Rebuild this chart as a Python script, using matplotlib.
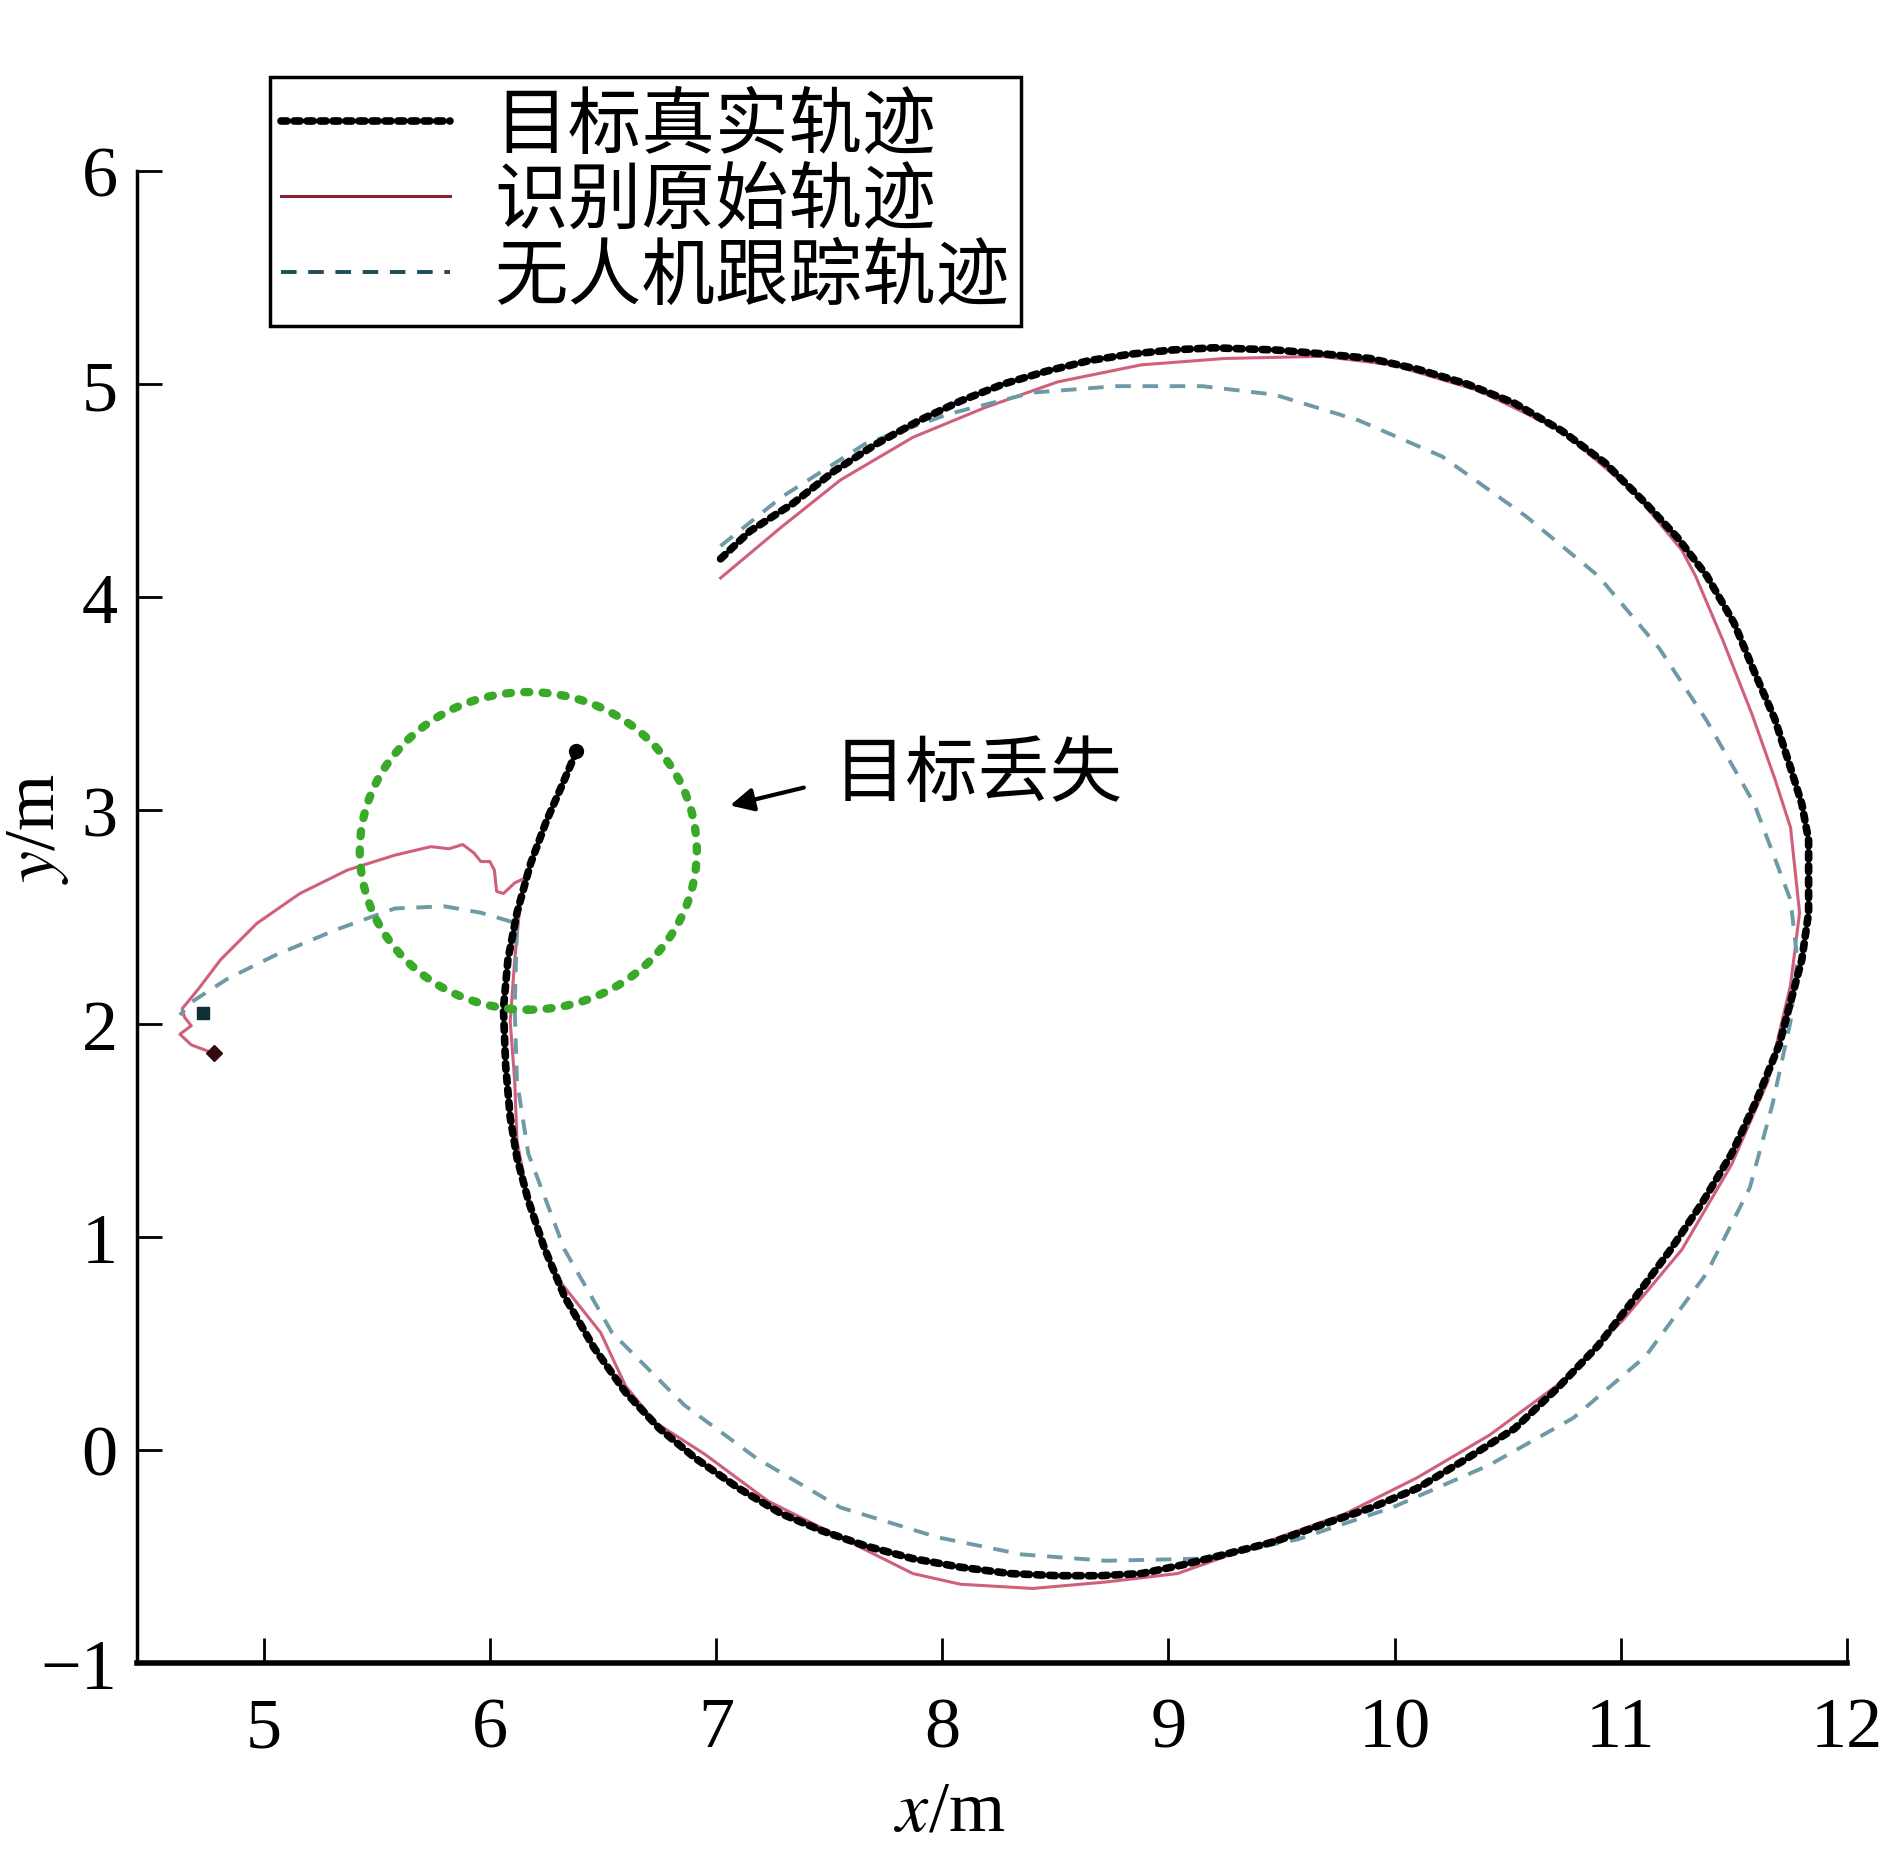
import matplotlib
matplotlib.use('Agg')
import matplotlib.pyplot as plt
from matplotlib.patches import Circle
from matplotlib.font_manager import FontProperties

plt.rcParams['font.family'] = ['Liberation Serif', 'DejaVu Sans']
plt.rcParams['mathtext.fontset'] = 'stix'

# target true trajectory (black dotted)
true_x = [7.02, 7.15, 7.34, 7.52, 7.71, 7.90, 8.08, 8.27, 8.46, 8.65, 8.83, 9.02, 9.20, 9.47, 9.70, 9.89,
          10.10, 10.32, 10.53, 10.74, 10.93, 11.11, 11.25, 11.38, 11.50, 11.59, 11.68, 11.75, 11.80, 11.83,
          11.83, 11.80, 11.75, 11.70, 11.60, 11.49, 11.36, 11.22, 11.06, 10.90, 10.72, 10.53, 10.32, 10.10,
          9.90, 9.68, 9.47, 9.25, 9.06, 8.88, 8.70, 8.51, 8.30, 8.08, 7.87, 7.66, 7.47, 7.29, 7.10, 6.91,
          6.75, 6.60, 6.46, 6.33, 6.24, 6.17, 6.12, 6.09, 6.07, 6.06, 6.08, 6.12, 6.18, 6.25, 6.32, 6.38]
true_y = [4.18, 4.31, 4.44, 4.59, 4.72, 4.83, 4.92, 5.00, 5.06, 5.11, 5.14, 5.16, 5.17, 5.16, 5.14, 5.12,
          5.07, 5.00, 4.91, 4.78, 4.63, 4.44, 4.28, 4.10, 3.88, 3.65, 3.43, 3.20, 3.03, 2.86,
          2.52, 2.30, 2.10, 1.90, 1.64, 1.39, 1.16, 0.94, 0.71, 0.49, 0.29, 0.10, -0.04, -0.18,
          -0.27, -0.35, -0.43, -0.49, -0.54, -0.58, -0.59, -0.59, -0.58, -0.55, -0.51, -0.45, -0.38, -0.30, -0.18, -0.04,
          0.10, 0.27, 0.48, 0.72, 0.95, 1.17, 1.37, 1.56, 1.80, 2.07, 2.30, 2.52, 2.75, 2.95, 3.12, 3.27]

# recognised raw trajectory (red)
raw_x = [7.02, 7.29, 7.55, 7.87, 8.19, 8.51, 8.88, 9.25, 9.68, 9.99, 10.37, 10.74, 11.06, 11.27, 11.33,
         11.45, 11.58, 11.68, 11.75, 11.79, 11.75, 11.65, 11.49, 11.27, 11.01, 10.74, 10.42, 10.10, 9.78,
         9.41, 9.04, 8.72, 8.40, 8.08, 7.87, 7.55, 7.23, 6.95, 6.73, 6.60, 6.49, 6.28, 6.17, 6.12, 6.11,
         6.09, 6.11, 6.13, 6.15, 6.11, 6.06, 6.03, 6.02, 6.00, 5.96, 5.93, 5.88, 5.82, 5.74, 5.58, 5.37,
         5.16, 4.97, 4.81, 4.71, 4.64, 4.65, 4.68, 4.63, 4.68, 4.78]
raw_y = [4.09, 4.33, 4.55, 4.75, 4.89, 5.01, 5.09, 5.12, 5.13, 5.09, 4.97, 4.78, 4.49, 4.22, 4.10,
         3.80, 3.45, 3.15, 2.92, 2.52, 2.18, 1.73, 1.34, 0.94, 0.61, 0.32, 0.07, -0.13, -0.30,
         -0.44, -0.58, -0.62, -0.65, -0.63, -0.58, -0.41, -0.24, -0.02, 0.13, 0.30, 0.55, 0.83, 1.17, 1.45, 1.73,
         2.01, 2.30, 2.52, 2.68, 2.66, 2.61, 2.62, 2.72, 2.76, 2.76, 2.80, 2.84, 2.82, 2.83, 2.79, 2.72,
         2.61, 2.47, 2.30, 2.16, 2.07, 2.03, 1.99, 1.95, 1.90, 1.86]

# UAV tracking trajectory (dashed)
uav_x = [7.02, 7.29, 7.66, 8.03, 8.40, 8.77, 9.15, 9.47, 9.84, 10.21, 10.58, 10.90, 11.17, 11.38, 11.59,
         11.75, 11.78, 11.75, 11.67, 11.57, 11.38, 11.11, 10.79, 10.42, 9.99, 9.57, 9.15, 8.72, 8.35, 7.98,
         7.55, 7.18, 6.86, 6.54, 6.33, 6.17, 6.12, 6.11, 6.12, 5.96, 5.80, 5.58, 5.32, 5.05, 4.84, 4.68, 4.63]
uav_y = [4.24, 4.47, 4.72, 4.86, 4.96, 4.99, 4.99, 4.95, 4.83, 4.66, 4.38, 4.10, 3.76, 3.42, 3.03,
         2.58, 2.30, 2.01, 1.62, 1.23, 0.83, 0.44, 0.15, -0.07, -0.27, -0.42, -0.51, -0.52, -0.49, -0.41,
         -0.27, -0.04, 0.21, 0.55, 0.94, 1.39, 1.73, 2.07, 2.47, 2.52, 2.55, 2.54, 2.44, 2.32, 2.21, 2.10, 2.04]

# end points
true_end = (6.38, 3.28)
raw_end = (4.78, 1.86)
uav_end = (4.73, 2.05)

# lost-target region
lost_center = (6.17, 2.81)
lost_radius = 0.745

labels = ['目标真实轨迹', '识别原始轨迹', '无人机跟踪轨迹']

fig = plt.figure(figsize=(18.84, 18.56), dpi=100)
ax = fig.add_axes([0.0727, 0.1034, 0.9077, 0.8040])

red = '#d0607a'
teal = '#6e9aa8'

l2, = ax.plot(raw_x, raw_y, color=red, lw=2.2, zorder=2)
l3, = ax.plot(uav_x, uav_y, color=teal, lw=2.8, linestyle=(0, (4, 3)), zorder=2)
l1, = ax.plot(true_x, true_y, color='black', lw=5.5, linestyle=(0, (0.8, 0.9)),
              dash_capstyle='round', zorder=3)

ax.plot(*true_end, 'o', color='black', ms=10, zorder=4)
ax.plot(*raw_end, 'D', color='#330a10', ms=8, zorder=4)
ax.plot(*uav_end, 's', color='#0f2e35', ms=8, zorder=4)

circ = Circle(lost_center, lost_radius, fill=False, edgecolor='#3aa828', lw=6,
              linestyle=(0, (0.6, 1.6)), capstyle='round', zorder=3)
ax.add_patch(circ)

cjk = FontProperties(family=['Noto Sans CJK SC', 'DejaVu Sans'], size=52)
ax.annotate('', xy=(7.05, 3.02), xytext=(7.40, 3.11),
            arrowprops=dict(arrowstyle='-|>', color='black', lw=3, mutation_scale=35))
ax.text(7.52, 3.17, '目标丢失', fontproperties=cjk, va='center', ha='left')

ax.set_xlim(4.44, 12.0)
ax.set_ylim(-1, 6)
ax.set_xticks(range(5, 13))
ax.set_yticks(range(-1, 7))
ax.spines['top'].set_visible(False)
ax.spines['right'].set_visible(False)
ax.spines['bottom'].set_linewidth(4)
ax.spines['left'].set_linewidth(2.5)
ax.tick_params(direction='in', length=18, width=2, labelsize=52)
ax.tick_params(axis='x', pad=24)
ax.tick_params(axis='y', pad=14)
ax.set_xlabel('$x$/m', fontsize=52, va='center')
ax.set_ylabel('$y$/m', fontsize=52, va='center')
ax.xaxis.set_label_coords(0.475, -0.1)
ax.yaxis.set_label_coords(-0.058, 0.56)

leg_font = FontProperties(family=['Noto Sans CJK SC', 'DejaVu Sans'], size=53)
leg = ax.legend([l1, l2, l3], labels, prop=leg_font, loc='upper left',
                bbox_to_anchor=(270 / 1884, 1 - 78 / 1856), bbox_transform=fig.transFigure,
                borderaxespad=0, fancybox=False, framealpha=1, edgecolor='black',
                handlelength=2.3, handletextpad=0.6, labelspacing=0.0, borderpad=0.15)
leg.get_frame().set_linewidth(2.5)
leg.legend_handles[1].set_color('#8a1f30')
leg.legend_handles[2].set_color('#1d4d56')

fig.savefig('out.png', dpi=100)
